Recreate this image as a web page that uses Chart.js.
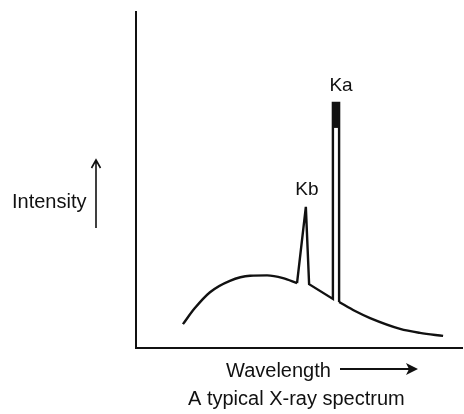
<!DOCTYPE html>
<html>
<head>
<meta charset="utf-8">
<script src="https://cdn.jsdelivr.net/npm/chart.js@4/dist/chart.umd.min.js"></script>
<style>
    html, body { margin: 0; padding: 0; background: #fff; }
    #wrap { position: relative; width: 464px; height: 414px; }
</style>
</head>
<body>
<div id="wrap"><canvas id="xray" width="464" height="414"></canvas></div>
<script>
// continuous (bremsstrahlung) part, left of the Kb line
var contLeftX = [14.4, 18.0, 22.7, 28.8, 35.0, 40.2, 45.1, 49.4];
var contLeftY = [7.1, 11.8, 16.6, 20.0, 21.5, 21.6, 20.8, 19.3];

// characteristic lines Kb and Ka (sharp, straight segments)
var peaksX = [49.4, 52.1, 53.1, 60.4, 60.4, 62.3, 62.3];
var peaksY = [19.3, 42.0, 19.0, 14.6, 72.9, 72.9, 13.7];

// continuous part right of Ka
var contRightX = [62.3, 67.2, 71.8, 81.0, 87.1, 94.2];
var contRightY = [13.7, 11.0, 8.9, 5.7, 4.5, 3.6];

// black top of the Ka line
var kaCapX = [61.35, 61.35];
var kaCapY = [65.5, 72.9];

var lineLabels = ["Kb", "Ka"];
var lineLabelX = [52.1, 61.35];
var lineLabelY = [42.0, 72.9];

var xTitle = "Wavelength";
var yTitle = "Intensity";
var caption = "A typical X-ray spectrum";

function pts(xs, ys) {
    return xs.map((x, i) => ({ x: x, y: ys[i] }));
}

var FONT = '"Liberation Sans", Arial, sans-serif';

var textPlugin = {
    id: "textPlugin",
    afterDraw(chart) {
        var ctx = chart.ctx;
        var xs = chart.scales.x, ys = chart.scales.y;
        ctx.save();
        ctx.fillStyle = "#111";
        ctx.strokeStyle = "#111";
        ctx.lineWidth = 1.6;

        // Ka / Kb labels above the peaks
        ctx.font = "19px " + FONT;
        ctx.textAlign = "center";
        ctx.textBaseline = "alphabetic";
        lineLabels.forEach((t, i) => {
            var px = xs.getPixelForValue(lineLabelX[i]) + (i === 1 ? 5 : 1);
            var py = ys.getPixelForValue(lineLabelY[i]) - 12;
            ctx.fillText(t, px, py);
        });

        // Intensity label with an up arrow
        ctx.font = "20px " + FONT;
        ctx.textAlign = "left";
        ctx.fillText(yTitle, 12, 208);
        ctx.beginPath();
        ctx.moveTo(96, 228);
        ctx.lineTo(96, 161);
        ctx.moveTo(91.5, 168);
        ctx.lineTo(96, 160);
        ctx.lineTo(100.5, 168);
        ctx.stroke();

        // Wavelength label with a right arrow
        ctx.fillText(xTitle, 226, 377);
        ctx.lineWidth = 2.2;
        ctx.beginPath();
        ctx.moveTo(340, 369);
        ctx.lineTo(414, 369);
        ctx.stroke();
        ctx.beginPath();
        ctx.moveTo(406, 363);
        ctx.lineTo(418, 369);
        ctx.lineTo(406, 375);
        ctx.lineTo(409, 369);
        ctx.closePath();
        ctx.fill();

        // caption
        ctx.fillText(caption, 188, 405);
        ctx.restore();
    }
};

var lineStyle = {
    showLine: true,
    borderColor: "#111",
    borderWidth: 2.4,
    pointRadius: 0,
    fill: false
};

new Chart(document.getElementById("xray"), {
    type: "scatter",
    data: {
        datasets: [
            Object.assign({ data: pts(contLeftX, contLeftY), cubicInterpolationMode: "monotone" }, lineStyle),
            Object.assign({ data: pts(peaksX, peaksY), tension: 0 }, lineStyle, { borderJoinStyle: "miter" }),
            Object.assign({ data: pts(contRightX, contRightY), cubicInterpolationMode: "monotone" }, lineStyle),
            Object.assign({ data: pts(kaCapX, kaCapY), tension: 0 }, lineStyle, { borderWidth: 8, borderCapStyle: "butt" })
        ]
    },
    options: {
        responsive: false,
        animation: false,
        layout: { padding: { left: 136, top: 12, right: 2, bottom: 66 } },
        plugins: { legend: { display: false }, tooltip: { enabled: false } },
        scales: {
            x: {
                type: "linear", min: 0, max: 100,
                grid: { display: false, drawTicks: false },
                ticks: { display: false },
                border: { display: true, color: "#111", width: 2 }
            },
            y: {
                type: "linear", min: 0, max: 100,
                grid: { display: false, drawTicks: false },
                ticks: { display: false },
                border: { display: true, color: "#111", width: 2 }
            }
        }
    },
    plugins: [textPlugin]
});
</script>
</body>
</html>
